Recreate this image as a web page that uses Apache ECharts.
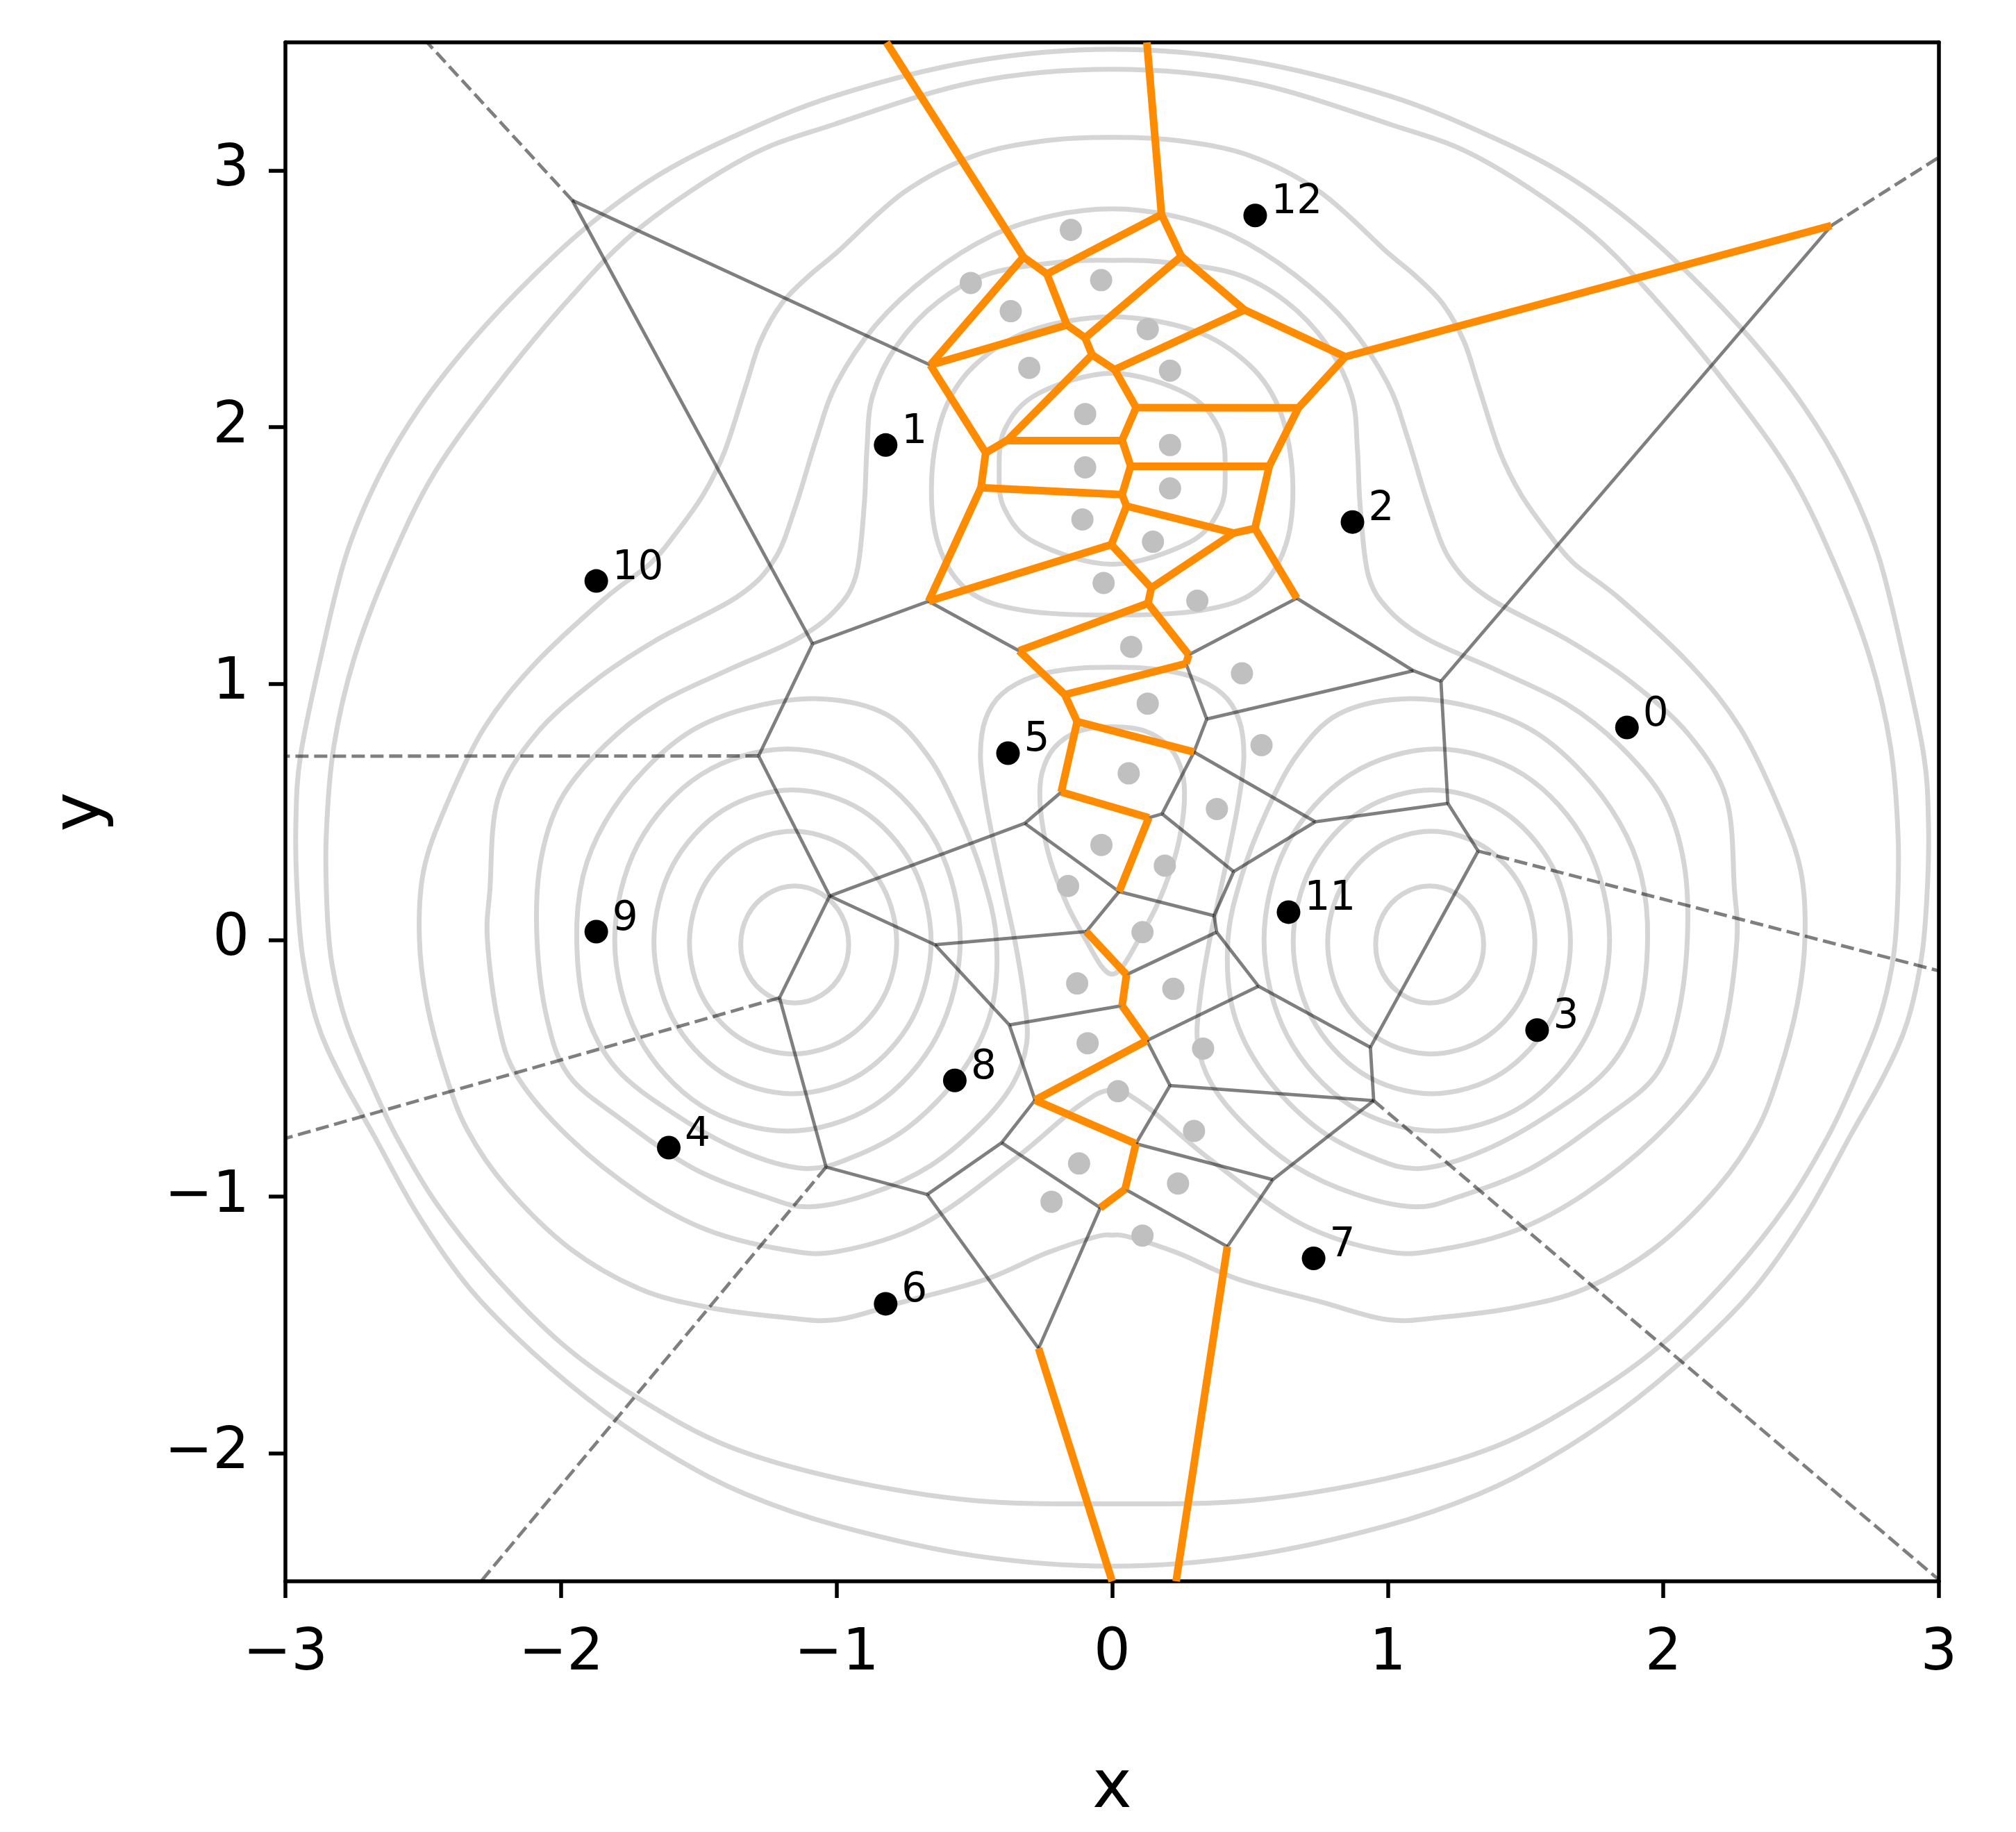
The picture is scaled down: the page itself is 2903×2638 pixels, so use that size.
<!DOCTYPE html>
<html>
<head>
<meta charset="utf-8">
<script src="https://cdn.jsdelivr.net/npm/echarts@6/dist/echarts.min.js"></script>
<style>
  html, body { margin: 0; padding: 0; background: #fff; }
  #chart { width: 2903px; height: 2638px; }
</style>
</head>
<body>
<div id="chart"></div>
<script>
// tick positions
const xTicks = [-3, -2, -1, 0, 1, 2, 3];
const yTicks = [-2, -1, 0, 1, 2, 3];

// labelled generator points (label = index)
const centers = [
  [1.868, 0.829], [-0.822, 1.930], [0.872, 1.630], [1.542, -0.351], [-1.609, -0.809],
  [-0.378, 0.729], [-0.822, -1.418], [0.731, -1.241], [-0.571, -0.547], [-1.872, 0.033],
  [-1.872, 1.400], [0.640, 0.109], [0.519, 2.825]
];

// grey sample points
const samples = [
  [-0.150, 2.769], [-0.513, 2.562], [-0.040, 2.573], [-0.368, 2.452], [0.129, 2.382],
  [-0.301, 2.231], [0.210, 2.220], [-0.098, 2.051], [0.210, 1.930], [-0.098, 1.843],
  [0.210, 1.761], [-0.108, 1.640], [0.148, 1.553], [-0.031, 1.392], [0.309, 1.323],
  [0.069, 1.143], [0.471, 1.040], [0.129, 0.922], [0.542, 0.760], [0.060, 0.650],
  [0.380, 0.511], [-0.039, 0.371], [0.191, 0.290], [-0.160, 0.211], [0.110, 0.031],
  [-0.127, -0.169], [0.222, -0.190], [-0.089, -0.402], [0.330, -0.423], [0.021, -0.589],
  [0.297, -0.744], [-0.120, -0.871], [0.239, -0.949], [-0.220, -1.020], [0.110, -1.152]
];

// voronoi vertices (last ones are where the open ridges leave the axes)
const vertices = [
  [-0.322, 2.663], [-0.237, 2.597], [0.179, 2.829], [0.251, 2.666], [-0.164, 2.398],   // 0-4
  [-0.098, 2.348], [-0.073, 2.282], [0.009, 2.224], [0.480, 2.457], [0.846, 2.274],    // 5-9
  [-0.660, 2.242], [0.087, 2.076], [0.676, 2.075], [0.036, 1.949], [-0.380, 1.949],    // 10-14
  [-0.459, 1.900], [0.067, 1.848], [0.570, 1.848], [-0.476, 1.764], [0.036, 1.737],    // 15-19
  [0.052, 1.692], [0.441, 1.587], [0.518, 1.605], [-0.003, 1.542], [-0.666, 1.321],    // 20-24
  [0.142, 1.373], [0.130, 1.313], [0.670, 1.333], [-0.338, 1.128], [0.278, 1.112],     // 25-29
  [0.268, 1.078], [-0.172, 0.957], [-0.127, 0.852], [0.343, 0.862], [0.297, 0.733],    // 30-34
  [-0.185, 0.577], [0.737, 0.461], [0.441, 0.267], [0.181, 0.492], [0.133, 0.477],     // 35-39
  [0.025, 0.189], [-0.317, 0.455], [-0.094, 0.033], [0.370, 0.095], [0.379, 0.031],    // 40-44
  [0.052, -0.135], [0.036, -0.256], [0.531, -0.180], [0.937, -0.418], [0.126, -0.392], // 45-49
  [-0.373, -0.331], [-0.643, -0.018], [-0.280, -0.624], [0.086, -0.794], [-0.401, -0.790], // 50-54
  [0.047, -0.971], [-0.043, -1.044], [-0.671, -0.992], [-0.267, -1.592], [0.210, -0.567],  // 55-59
  [0.949, -0.626], [0.583, -0.934], [0.418, -1.195], [-1.959, 2.884], [2.610, 2.786],   // 60-64
  [-1.087, 1.155], [-1.283, 0.718], [-1.025, 0.172], [-1.207, -0.225], [-1.038, -0.885], // 65-69
  [1.093, 1.050], [1.193, 1.009], [1.218, 0.533], [1.328, 0.347],                       // 70-73
  [-0.819, 3.5], [0.126, 3.5], [0.0, -2.5], [0.232, -2.5],                              // 74-77
  [-2.486, 3.5], [3.0, 3.052], [-3.0, 0.717], [-3.0, -0.773], [-2.290, -2.5],           // 78-82
  [3.0, -2.494], [3.0, -0.120]                                                          // 83-84
];

const orangeRidges = [
  [74, 0], [75, 2], [0, 1], [1, 2], [2, 3], [0, 10], [1, 4], [4, 10], [4, 5], [5, 3],
  [5, 6], [6, 7], [3, 8], [8, 9], [8, 7], [9, 64], [9, 12], [7, 11], [11, 12], [10, 15],
  [6, 14], [14, 15], [14, 13], [11, 13], [13, 16], [16, 17], [12, 17], [15, 18], [16, 19], [18, 19],
  [19, 20], [20, 21], [21, 22], [17, 22], [20, 23], [18, 24], [24, 23], [23, 25], [25, 21], [25, 26],
  [22, 27], [26, 28], [26, 29], [29, 30], [30, 31], [28, 31], [31, 32], [32, 34], [32, 35], [35, 39],
  [39, 40], [42, 45], [45, 46], [46, 49], [49, 52], [52, 53], [53, 55], [55, 56], [58, 76], [62, 77]
];

const grayRidges = [
  [63, 65], [63, 10], [65, 24], [65, 66], [66, 67], [67, 41], [67, 51], [67, 68], [68, 69], [69, 57],
  [24, 28], [27, 70], [29, 27], [30, 33], [33, 70], [33, 34], [34, 36], [34, 38], [38, 39], [38, 37],
  [36, 72], [36, 37], [37, 43], [70, 71], [71, 64], [71, 72], [72, 73], [73, 48], [35, 41], [41, 40],
  [40, 42], [40, 43], [43, 44], [44, 45], [44, 47], [47, 48], [47, 49], [42, 51], [51, 50], [46, 50],
  [50, 52], [48, 60], [59, 60], [49, 59], [53, 59], [52, 54], [54, 56], [54, 57], [57, 58], [56, 58],
  [53, 61], [55, 62], [61, 62], [61, 60]
];

const dashedRidges = [[63, 78], [64, 79], [66, 80], [68, 81], [69, 82], [60, 83], [73, 84]];

// contour lines of the background potential (closed loops)
const contourO1 = [
  [0, 3.473], [-0.5, 3.427], [-1.01, 3.29], [-1.39, 3.125], [-1.65, 2.98], [-1.89, 2.795], [-2.1, 2.59],
  [-2.32, 2.34], [-2.51, 2.08], [-2.66, 1.81], [-2.78, 1.5], [-2.87, 1.11], [-2.945, 0.72], [-2.962, 0.46],
  [-2.958, 0.2], [-2.938, -0.06], [-2.885, -0.32], [-2.8, -0.53], [-2.68, -0.76], [-2.52, -1.07], [-2.33, -1.36],
  [-2.1, -1.61], [-1.84, -1.84], [-1.585, -2.02], [-1.33, -2.16], [-0.99, -2.285], [-0.5, -2.4], [0, -2.441],
  [0.5, -2.4], [0.99, -2.285], [1.33, -2.16], [1.585, -2.02], [1.84, -1.84], [2.1, -1.61], [2.33, -1.36],
  [2.52, -1.07], [2.68, -0.76], [2.8, -0.53], [2.885, -0.32], [2.938, -0.06], [2.958, 0.2], [2.962, 0.46],
  [2.945, 0.72], [2.87, 1.11], [2.78, 1.5], [2.66, 1.81], [2.51, 2.08], [2.32, 2.34], [2.1, 2.59],
  [1.89, 2.795], [1.65, 2.98], [1.39, 3.125], [1.01, 3.29], [0.5, 3.427]
];
const contourO2 = [
  [0, 3.395], [-0.5, 3.345], [-1.01, 3.18], [-1.33, 3.05], [-1.71, 2.78], [-1.97, 2.5], [-2.23, 2.165],
  [-2.46, 1.82], [-2.62, 1.47], [-2.75, 1.1], [-2.825, 0.75], [-2.852, 0.4], [-2.848, 0.1], [-2.83, -0.1],
  [-2.781, -0.315], [-2.7, -0.53], [-2.6, -0.76], [-2.45, -1.03], [-2.25, -1.3], [-1.99, -1.58], [-1.714, -1.79],
  [-1.39, -1.975], [-0.99, -2.1], [-0.5, -2.185], [0, -2.198],
  [0.5, -2.185], [0.99, -2.1], [1.39, -1.975], [1.714, -1.79], [1.99, -1.58], [2.25, -1.3], [2.45, -1.03],
  [2.6, -0.76], [2.7, -0.53], [2.781, -0.315], [2.83, -0.1], [2.848, 0.1], [2.852, 0.4], [2.825, 0.75],
  [2.75, 1.1], [2.62, 1.47], [2.46, 1.82], [2.23, 2.165], [1.97, 2.5], [1.71, 2.78], [1.33, 3.05],
  [1.01, 3.18], [0.5, 3.345]
];
const contourO3 = [
  [0, 3.13], [-0.24, 3.117], [-0.5, 3.058], [-0.755, 2.916], [-1.0, 2.68], [-1.1, 2.59], [-1.2, 2.48],
  [-1.277, 2.333], [-1.328, 2.165], [-1.406, 1.906], [-1.483, 1.738], [-1.586, 1.582], [-1.676, 1.468],
  [-1.843, 1.33], [-2.1, 1.071], [-2.28, 0.825], [-2.421, 0.514], [-2.499, 0.268], [-2.514, 0.009],
  [-2.486, -0.25], [-2.42, -0.52], [-2.34, -0.74], [-2.2, -0.96], [-1.97, -1.2], [-1.714, -1.36],
  [-1.47, -1.431], [-1.2, -1.47], [-1.0, -1.48], [-0.755, -1.41], [-0.459, -1.323], [-0.24, -1.221],
  [-0.06, -1.157], [0, -1.15],
  [0.06, -1.157], [0.24, -1.221], [0.459, -1.323], [0.755, -1.41], [1.0, -1.48], [1.2, -1.47],
  [1.47, -1.431], [1.714, -1.36], [1.97, -1.2], [2.2, -0.96], [2.34, -0.74], [2.42, -0.52],
  [2.486, -0.25], [2.514, 0.009], [2.499, 0.268], [2.421, 0.514], [2.28, 0.825], [2.1, 1.071],
  [1.843, 1.33], [1.676, 1.468], [1.586, 1.582], [1.483, 1.738], [1.406, 1.906], [1.328, 2.165],
  [1.277, 2.333], [1.2, 2.48], [1.1, 2.59], [1.0, 2.68], [0.755, 2.916], [0.5, 3.058], [0.24, 3.117]
];
const contourO4 = [
  [0, 2.851], [-0.215, 2.825], [-0.433, 2.748], [-0.665, 2.592], [-0.858, 2.398], [-1.0, 2.17],
  [-1.072, 1.959], [-1.149, 1.69], [-1.226, 1.483], [-1.361, 1.338], [-1.65, 1.172], [-1.882, 1.007],
  [-2.094, 0.799], [-2.229, 0.551], [-2.258, 0.199], [-2.267, 0], [-2.229, -0.315], [-2.16, -0.53],
  [-1.97, -0.77], [-1.714, -0.99], [-1.47, -1.13], [-1.2, -1.205], [-1.0, -1.215], [-0.687, -1.107],
  [-0.359, -0.858], [-0.127, -0.651], [0, -0.585],
  [0.127, -0.651], [0.359, -0.858], [0.687, -1.107], [1.0, -1.215], [1.2, -1.205], [1.47, -1.13],
  [1.714, -0.99], [1.97, -0.77], [2.16, -0.53], [2.229, -0.315], [2.267, 0], [2.258, 0.199],
  [2.229, 0.551], [2.094, 0.799], [1.882, 1.007], [1.65, 1.172], [1.361, 1.338], [1.226, 1.483],
  [1.149, 1.69], [1.072, 1.959], [1.0, 2.17], [0.858, 2.398], [0.665, 2.592], [0.433, 2.748],
  [0.215, 2.825]
];
const contourO5 = [
  [0, 2.65], [-0.17, 2.645], [-0.44, 2.6], [-0.63, 2.49], [-0.78, 2.32], [-0.87, 2.12], [-0.89, 1.91],
  [-0.9, 1.69], [-0.93, 1.42], [-1.01, 1.28], [-1.15, 1.17], [-1.4, 1.05], [-1.65, 0.92], [-1.84, 0.76],
  [-2.0, 0.55], [-2.075, 0.3], [-2.087, 0], [-2.05, -0.31], [-1.97, -0.53], [-1.78, -0.7], [-1.52, -0.89],
  [-1.26, -1.0], [-1.1, -1.04], [-0.88, -0.99], [-0.66, -0.88], [-0.48, -0.72], [-0.36, -0.56],
  [-0.31, -0.4], [-0.32, -0.22], [-0.35, -0.02], [-0.39, 0.18], [-0.43, 0.38], [-0.46, 0.55],
  [-0.478, 0.72], [-0.46, 0.86], [-0.4, 0.96], [-0.28, 1.03], [-0.14, 1.058], [0, 1.064],
  [0.14, 1.058], [0.28, 1.03], [0.4, 0.96], [0.46, 0.86], [0.478, 0.72], [0.46, 0.55], [0.43, 0.38],
  [0.39, 0.18], [0.35, -0.02], [0.32, -0.22], [0.31, -0.4], [0.36, -0.56], [0.48, -0.72], [0.66, -0.88],
  [0.88, -0.99], [1.1, -1.04], [1.26, -1.0], [1.52, -0.89], [1.78, -0.7], [1.97, -0.53], [2.05, -0.31],
  [2.087, 0], [2.075, 0.3], [2.0, 0.55], [1.84, 0.76], [1.65, 0.92], [1.4, 1.05], [1.15, 1.17],
  [1.01, 1.28], [0.93, 1.42], [0.9, 1.69], [0.89, 1.91], [0.87, 2.12], [0.78, 2.32], [0.63, 2.49],
  [0.44, 2.6], [0.17, 2.645]
];
const contourT1 = [
  [0, 2.21], [0.27, 2.13], [0.39, 1.99], [0.41, 1.82], [0.39, 1.68], [0.28, 1.55], [0, 1.465],
  [-0.28, 1.55], [-0.39, 1.68], [-0.41, 1.82], [-0.39, 1.99], [-0.27, 2.13]
];
const contourT2 = [
  [0, 2.43], [0.3, 2.375], [0.5, 2.24], [0.61, 2.06], [0.655, 1.8], [0.63, 1.54], [0.52, 1.36],
  [0.32, 1.285], [0, 1.267], [-0.32, 1.285], [-0.52, 1.36], [-0.63, 1.54], [-0.655, 1.8], [-0.61, 2.06],
  [-0.5, 2.24], [-0.3, 2.375]
];
const contourMid = [
  [0, 0.832], [0.12, 0.815], [0.21, 0.75], [0.255, 0.65], [0.262, 0.54], [0.245, 0.4], [0.215, 0.28],
  [0.16, 0.13], [0.095, 0.0], [0.04, -0.1], [0, -0.133], [-0.04, -0.1], [-0.095, 0.0], [-0.16, 0.13],
  [-0.215, 0.28], [-0.245, 0.4], [-0.262, 0.54], [-0.255, 0.65], [-0.21, 0.75], [-0.12, 0.815]
];
const contourL6 = [
  [-1.943, 0], [-1.92, 0.25], [-1.84, 0.46], [-1.7, 0.66], [-1.52, 0.82], [-1.3, 0.91], [-1.05, 0.94],
  [-0.82, 0.88], [-0.67, 0.72], [-0.56, 0.5], [-0.47, 0.25], [-0.42, 0], [-0.44, -0.28], [-0.55, -0.52],
  [-0.74, -0.73], [-0.95, -0.85], [-1.12, -0.89], [-1.35, -0.82], [-1.6, -0.67], [-1.8, -0.5], [-1.91, -0.28]
];
const contourR6 = [
  [1.943, 0], [1.92, 0.25], [1.84, 0.46], [1.7, 0.66], [1.52, 0.82], [1.3, 0.91], [1.05, 0.94],
  [0.82, 0.88], [0.67, 0.72], [0.56, 0.5], [0.47, 0.25], [0.42, 0], [0.44, -0.28], [0.55, -0.52],
  [0.74, -0.73], [0.95, -0.85], [1.12, -0.89], [1.35, -0.82], [1.6, -0.67], [1.8, -0.5], [1.91, -0.28]
];
const contourL7 = [
  [-0.551, 0], [-0.635, 0.373], [-0.864, 0.645], [-1.178, 0.745], [-1.492, 0.645], [-1.721, 0.373],
  [-1.805, 0], [-1.721, -0.373], [-1.492, -0.645], [-1.178, -0.745], [-0.864, -0.645], [-0.635, -0.373]
];
const contourR7 = [
  [0.551, 0], [0.635, 0.373], [0.864, 0.645], [1.178, 0.745], [1.492, 0.645], [1.721, 0.373],
  [1.805, 0], [1.721, -0.373], [1.492, -0.645], [1.178, -0.745], [0.864, -0.645], [0.635, -0.373]
];
const contourL8 = [
  [-0.657, -0.007], [-0.724, 0.289], [-0.908, 0.506], [-1.16, 0.585], [-1.412, 0.506], [-1.596, 0.289],
  [-1.663, -0.007], [-1.596, -0.303], [-1.412, -0.52], [-1.16, -0.599], [-0.908, -0.52], [-0.724, -0.303]
];
const contourR8 = [
  [0.657, -0.007], [0.724, 0.289], [0.908, 0.506], [1.16, 0.585], [1.412, 0.506], [1.596, 0.289],
  [1.663, -0.007], [1.596, -0.303], [1.412, -0.52], [1.16, -0.599], [0.908, -0.52], [0.724, -0.303]
];
const contourL9 = [
  [-0.782, -0.01], [-0.832, 0.207], [-0.97, 0.366], [-1.158, 0.424], [-1.346, 0.366], [-1.484, 0.207],
  [-1.534, -0.01], [-1.484, -0.227], [-1.346, -0.386], [-1.158, -0.444], [-0.97, -0.386], [-0.832, -0.227]
];
const contourR9 = [
  [0.782, -0.01], [0.832, 0.207], [0.97, 0.366], [1.158, 0.424], [1.346, 0.366], [1.484, 0.207],
  [1.534, -0.01], [1.484, -0.227], [1.346, -0.386], [1.158, -0.444], [0.97, -0.386], [0.832, -0.227]
];
const contourL10 = [
  [-0.956, -0.017], [-0.982, 0.097], [-1.054, 0.18], [-1.152, 0.211], [-1.25, 0.18], [-1.322, 0.097],
  [-1.348, -0.017], [-1.322, -0.131], [-1.25, -0.214], [-1.152, -0.245], [-1.054, -0.214], [-0.982, -0.131]
];
const contourR10 = [
  [0.956, -0.017], [0.982, 0.097], [1.054, 0.18], [1.152, 0.211], [1.25, 0.18], [1.322, 0.097],
  [1.348, -0.017], [1.322, -0.131], [1.25, -0.214], [1.152, -0.245], [1.054, -0.214], [0.982, -0.131]
];

const contours = [
  contourO1, contourO2, contourO3, contourO4, contourO5, contourT1, contourT2, contourMid,
  contourL6, contourR6, contourL7, contourR7, contourL8, contourR8, contourL9, contourR9, contourL10, contourR10
];

const FONT = 'DejaVu Sans';
const minus = v => (v < 0 ? '\u2212' + Math.abs(v) : String(v));
const segs = edges => edges.map(([a, b]) => ({ coords: [vertices[a], vertices[b]] }));

// closed Catmull-Rom curve through the pixel points, as SVG path data
function loopPath(px) {
  const n = px.length;
  const f = v => v.toFixed(1);
  let d = 'M' + f(px[0][0]) + ' ' + f(px[0][1]);
  for (let i = 0; i < n; i++) {
    const p0 = px[(i - 1 + n) % n], p1 = px[i], p2 = px[(i + 1) % n], p3 = px[(i + 2) % n];
    const c1 = [p1[0] + (p2[0] - p0[0]) / 6, p1[1] + (p2[1] - p0[1]) / 6];
    const c2 = [p2[0] - (p3[0] - p1[0]) / 6, p2[1] - (p3[1] - p1[1]) / 6];
    d += 'C' + f(c1[0]) + ' ' + f(c1[1]) + ' ' + f(c2[0]) + ' ' + f(c2[1]) + ' ' + f(p2[0]) + ' ' + f(p2[1]);
  }
  return d + 'Z';
}

const frameAxis = (pos, min, max) => ({
  type: 'value', position: pos, min: min, max: max,
  axisLine: { show: true, onZero: false, lineStyle: { color: '#000', width: 5.5 } },
  axisTick: { show: false }, axisLabel: { show: false }, splitLine: { show: false }
});

const chart = echarts.init(document.getElementById('chart'));

const option = {
  animation: false,
  backgroundColor: '#fff',
  grid: { left: 411, top: 61, width: 2381, height: 2216, containLabel: false, outerBoundsMode: 'none' },
  xAxis: [
    {
      type: 'value', position: 'bottom', min: -3, max: 3,
      axisLine: { show: true, onZero: false, lineStyle: { color: '#000', width: 5.5 } },
      axisTick: { show: true, inside: false, length: 24, customValues: xTicks, lineStyle: { color: '#000', width: 5.5 } },
      axisLabel: { show: true, customValues: xTicks, margin: 64, fontSize: 83, color: '#000', fontFamily: FONT, formatter: minus },
      splitLine: { show: false },
      name: 'x', nameLocation: 'middle', nameGap: 252,
      nameTextStyle: { fontSize: 96, color: '#000', fontFamily: FONT }
    },
    frameAxis('top', -3, 3)
  ],
  yAxis: [
    {
      type: 'value', position: 'left', min: -2.5, max: 3.5,
      axisLine: { show: true, onZero: false, lineStyle: { color: '#000', width: 5.5 } },
      axisTick: { show: true, inside: false, length: 24, customValues: yTicks, lineStyle: { color: '#000', width: 5.5 } },
      axisLabel: { show: true, customValues: yTicks, margin: 52, fontSize: 83, color: '#000', fontFamily: FONT, formatter: minus },
      splitLine: { show: false },
      name: 'y', nameLocation: 'middle', nameGap: 245, nameRotate: 90,
      nameTextStyle: { fontSize: 96, color: '#000', fontFamily: FONT }
    },
    frameAxis('right', -2.5, 3.5)
  ],
  series: [
    {
      // each contour is a closed loop, placed through the axes with api.coord
      type: 'custom', coordinateSystem: 'cartesian2d', silent: true, z: 1, clip: true,
      data: contours.map((c, i) => ({ value: c[0], name: 'level' + i })),
      renderItem: (params, api) => ({
        type: 'path',
        shape: { pathData: loopPath(contours[params.dataIndex].map(p => api.coord(p))) },
        style: { fill: null, stroke: '#d5d5d5', lineWidth: 7 }
      })
    },
    {
      type: 'lines', coordinateSystem: 'cartesian2d', data: segs(grayRidges), silent: true, z: 2, clip: true,
      lineStyle: { color: '#000', opacity: 0.5, width: 4.8, cap: 'butt' }
    },
    {
      type: 'lines', coordinateSystem: 'cartesian2d', data: segs(dashedRidges), silent: true, z: 2, clip: true,
      lineStyle: { color: '#000', opacity: 0.5, width: 4.8, type: [19, 8], cap: 'butt' }
    },
    {
      type: 'lines', coordinateSystem: 'cartesian2d', data: segs(orangeRidges), silent: true, z: 3, clip: true,
      lineStyle: { color: '#ff8c00', opacity: 1, width: 11, cap: 'butt' }
    },
    {
      type: 'scatter', data: samples, symbolSize: 32, silent: true, z: 4,
      itemStyle: { color: '#c0c0c0', opacity: 1 }
    },
    {
      type: 'scatter', data: centers, symbolSize: 34, silent: true, z: 5,
      itemStyle: { color: '#000', opacity: 1 },
      label: {
        show: true, position: 'right', distance: 6, offset: [0, -18],
        formatter: p => String(p.dataIndex), fontSize: 58, color: '#000', fontFamily: FONT
      }
    }
  ]
};

chart.setOption(option);
</script>
</body>
</html>
